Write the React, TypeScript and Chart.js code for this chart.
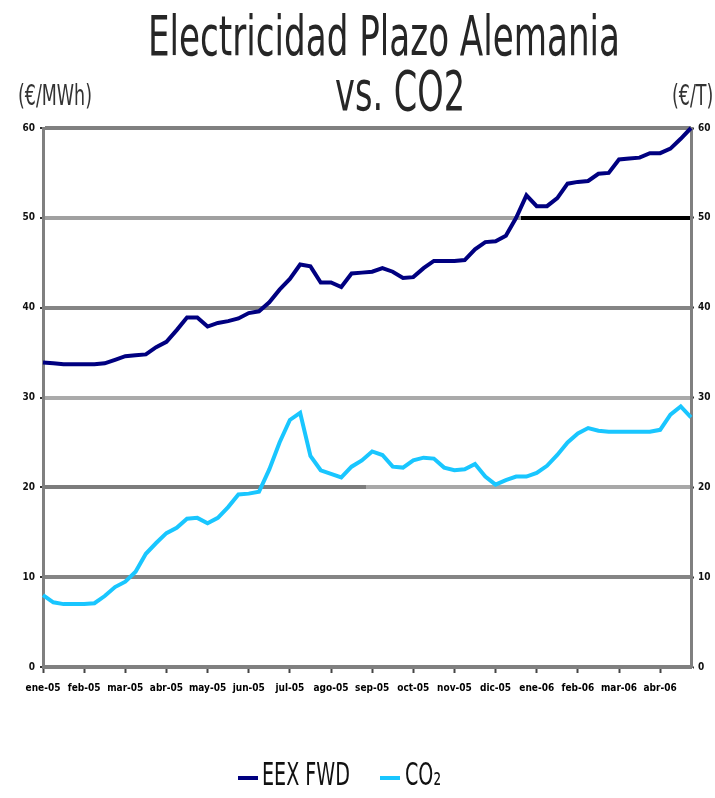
import React, { useEffect, useRef } from "react";
import { Chart, registerables } from "chart.js";

Chart.register(...registerables);

const months = [
  "ene-05", "feb-05", "mar-05", "abr-05", "may-05", "jun-05", "jul-05", "ago-05",
  "sep-05", "oct-05", "nov-05", "dic-05", "ene-06", "feb-06", "mar-06", "abr-06",
];
const weeksPerMonth = 4;

const eexFwd = [
  33.9, 33.8, 33.7, 33.7, 33.7, 33.7, 33.8, 34.2,
  34.6, 34.7, 34.8, 35.6, 36.2, 37.5, 38.9, 38.9,
  37.9, 38.3, 38.5, 38.8, 39.4, 39.6, 40.6, 42.0,
  43.2, 44.8, 44.6, 42.8, 42.8, 42.3, 43.8, 43.9,
  44.0, 44.4, 44.0, 43.3, 43.4, 44.4, 45.2, 45.2,
  45.2, 45.3, 46.5, 47.3, 47.4, 48.0, 50.0, 52.5,
  51.3, 51.3, 52.2, 53.8, 54.0, 54.1, 54.9, 55.0,
  56.5, 56.6, 56.7, 57.2, 57.2, 57.7, 58.8, 60.0,
];

const co2 = [
  8.0, 7.2, 7.0, 7.0, 7.0, 7.1, 7.9, 8.9,
  9.5, 10.6, 12.6, 13.8, 14.9, 15.5, 16.5, 16.6,
  16.0, 16.6, 17.8, 19.2, 19.3, 19.5, 22.0, 25.0,
  27.5, 28.3, 23.5, 21.9, 21.5, 21.1, 22.3, 23.0,
  24.0, 23.6, 22.3, 22.2, 23.0, 23.3, 23.2, 22.2,
  21.9, 22.0, 22.6, 21.2, 20.3, 20.8, 21.2, 21.2,
  21.6, 22.4, 23.6, 25.0, 26.0, 26.6, 26.3, 26.2,
  26.2, 26.2, 26.2, 26.2, 26.4, 28.1, 29.0, 27.8,
];

const yTicks = [0, 10, 20, 30, 40, 50, 60];
const titleLines = ["Electricidad Plazo Alemania", "vs. CO2"];
const leftUnit = "(€/MWh)";
const rightUnit = "(€/T)";
const seriesNames = ["EEX FWD", "CO₂"];
const seriesColors = ["#000080", "#19c6ff"];

const FONT = "'Liberation Sans Narrow', 'DejaVu Sans Condensed', Arial, sans-serif";

function drawSquished(
  ctx: CanvasRenderingContext2D,
  text: string,
  x: number,
  baseline: number,
  size: number,
  width: number | null,
  align: "left" | "center",
  color: string,
  scaleOverride?: number
) {
  ctx.save();
  ctx.font = `${size}px ${FONT}`;
  ctx.fillStyle = color;
  ctx.textBaseline = "alphabetic";
  ctx.textAlign = "left";
  const w = ctx.measureText(text).width;
  const sx = scaleOverride ?? (width ? width / w : 1);
  const left = align === "center" ? x - (w * sx) / 2 : x;
  ctx.translate(left, baseline);
  ctx.scale(sx, 1);
  ctx.fillText(text, 0, 0);
  ctx.restore();
  return sx;
}

const textPlugin = {
  id: "textPlugin",
  afterDraw(chart: any) {
    const ctx: CanvasRenderingContext2D = chart.ctx;
    drawSquished(ctx, titleLines[0], 384, 55, 56, 472, "center", "#262626");
    drawSquished(ctx, titleLines[1], 400, 110, 56, 130, "center", "#262626");
    const s = drawSquished(ctx, leftUnit, 18, 105, 28, 74, "left", "#333");
    drawSquished(ctx, rightUnit, 672, 105, 28, null, "left", "#333", s);

    // legend
    const ds = chart.data.datasets;
    const items = [
      { lx: 238, tx: 262, w: 88 },
      { lx: 380, tx: 405, w: 0 },
    ];
    let legendScale = 1;
    ds.forEach((d: any, i: number) => {
      const it = items[i];
      ctx.save();
      ctx.strokeStyle = d.borderColor;
      ctx.lineWidth = 4;
      ctx.beginPath();
      ctx.moveTo(it.lx, 778);
      ctx.lineTo(it.lx + 20, 778);
      ctx.stroke();
      ctx.restore();
      if (i === 0) {
        legendScale = drawSquished(ctx, d.label, it.tx, 785, 32, it.w, "left", "#111");
      } else {
        drawSquished(ctx, d.label, it.tx, 785, 32, null, "left", "#111", legendScale);
      }
    });
  },
};

function gridColor(c: any) {
  const v = c.tick?.value;
  const chart = c.chart;
  const ca = chart.chartArea;
  const split = (a: string, b: string, f: number) => {
    if (!ca) return a;
    const g = chart.ctx.createLinearGradient(ca.left, 0, ca.right, 0);
    g.addColorStop(0, a);
    g.addColorStop(f, a);
    g.addColorStop(f, b);
    g.addColorStop(1, b);
    return g;
  };
  if (v === 50) return split("#a0a0a0", "#000000", 0.737);
  if (v === 20) return split("#7c7c7c", "#a8a8a8", 0.498);
  if (v === 30) return "#aaaaaa";
  if (v === 0) return "#808080";
  if (v === 60) return "#808080";
  return "#858585";
}

export default function App() {
  const ref = useRef<HTMLCanvasElement | null>(null);

  useEffect(() => {
    if (!ref.current) return;
    const labels = eexFwd.map((_, i) =>
      i % weeksPerMonth === 0 && months[i / weeksPerMonth] ? months[i / weeksPerMonth] : ""
    );
    const tickFont = { family: FONT, size: 10, weight: "bold" as const };
    const chart = new Chart(ref.current, {
      type: "line",
      data: {
        labels,
        datasets: [
          {
            label: seriesNames[0],
            data: eexFwd,
            borderColor: seriesColors[0],
            backgroundColor: seriesColors[0],
            borderWidth: 4,
            pointRadius: 0,
            tension: 0,
            yAxisID: "y",
            clip: false as any,
          },
          {
            label: seriesNames[1],
            data: co2,
            borderColor: seriesColors[1],
            backgroundColor: seriesColors[1],
            borderWidth: 4,
            pointRadius: 0,
            tension: 0,
            yAxisID: "y2",
            clip: false as any,
          },
        ],
      },
      options: {
        responsive: false,
        animation: false,
        devicePixelRatio: 1,
        layout: { padding: { top: 128, bottom: 0, left: 0, right: 0 } },
        plugins: {
          legend: { display: false },
          title: { display: false },
          tooltip: { enabled: false },
        },
        scales: {
          x: {
            type: "category",
            offset: false,
            afterFit: (s: any) => {
              s.height = 131;
            },
            border: { color: "#808080", width: 3 },
            grid: {
              drawOnChartArea: false,
              drawTicks: true,
              tickLength: 6,
              tickWidth: 2,
              tickColor: (c: any) => (c.tick && c.tick.label ? "#444" : "rgba(0,0,0,0)"),
            },
            ticks: {
              autoSkip: false,
              maxRotation: 0,
              minRotation: 0,
              padding: 9,
              color: "#000",
              font: tickFont,
            },
          },
          y: {
            position: "left",
            min: 0,
            max: 60,
            afterFit: (s: any) => {
              s.width = 43;
            },
            afterBuildTicks: (s: any) => {
              s.ticks = yTicks.map((v) => ({ value: v }));
            },
            border: { color: "#808080", width: 3 },
            grid: {
              color: gridColor,
              lineWidth: 4,
              tickLength: 3,
              tickColor: "#333",
              tickWidth: 2,
            },
            ticks: { padding: 5, color: "#111", font: tickFont },
          },
          y2: {
            position: "right",
            min: 0,
            max: 60,
            afterFit: (s: any) => {
              s.width = 24;
            },
            afterBuildTicks: (s: any) => {
              s.ticks = yTicks.map((v) => ({ value: v }));
            },
            border: { color: "#808080", width: 3 },
            grid: {
              drawOnChartArea: false,
              tickLength: 3,
              tickColor: "#333",
              tickWidth: 2,
            },
            ticks: { padding: 4, color: "#111", font: tickFont },
          },
        },
      },
      plugins: [textPlugin],
    });
    return () => chart.destroy();
  }, []);

  return (
    <div style={{ position: "fixed", left: 0, top: 0, width: 715, height: 798, background: "#fff" }}>
      <canvas ref={ref} width={715} height={798} />
    </div>
  );
}
